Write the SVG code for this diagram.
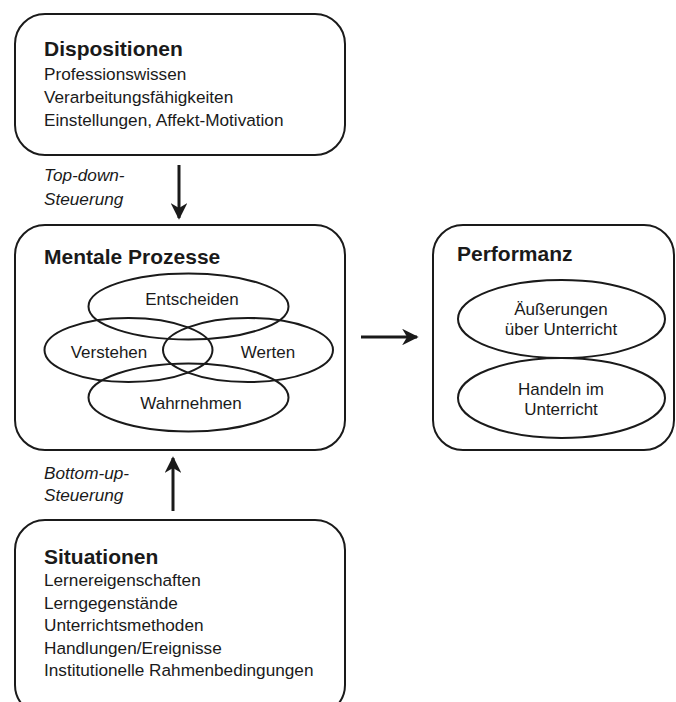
<svg xmlns="http://www.w3.org/2000/svg" width="676" height="702" viewBox="0 0 676 702">
<style>
.box{fill:#fff;stroke:#1a1a1a;stroke-width:2}
.ell{fill:none;stroke:#1a1a1a;stroke-width:2}
.t{font-family:"Liberation Sans",Arial,sans-serif;font-size:17.2px;fill:#1a1a1a}
.h{font-family:"Liberation Sans",Arial,sans-serif;font-size:21px;font-weight:bold;fill:#1a1a1a}
.e{font-family:"Liberation Sans",Arial,sans-serif;font-size:17px;fill:#1a1a1a;text-anchor:middle}
.i{font-family:"Liberation Sans",Arial,sans-serif;font-size:17.2px;font-style:italic;fill:#1a1a1a}
.c{stroke:#1a1a1a;stroke-width:3;fill:none}
</style>
<defs>
<marker id="ah" viewBox="0 0 10 10" refX="9" refY="5" markerWidth="5.5" markerHeight="5.5" orient="auto" markerUnits="strokeWidth">
<path d="M0,0 L10,5 L0,10 L3,5 Z" fill="#1a1a1a"/>
</marker>
</defs>
<g id="dispositionen">
<rect class="box" x="15" y="14" width="330" height="141" rx="30"/>
<text class="h" x="44" y="56">Dispositionen</text>
<text class="t" x="44" y="80">Professionswissen</text>
<text class="t" x="44" y="103">Verarbeitungsfähigkeiten</text>
<text class="t" x="44" y="126">Einstellungen, Affekt-Motivation</text>
</g>
<g id="mentale">
<rect class="box" x="15" y="225" width="330" height="225" rx="30"/>
<text class="h" x="44" y="264">Mentale Prozesse</text>
<ellipse class="ell" cx="188.5" cy="306.5" rx="100" ry="33"/>
<ellipse class="ell" cx="128.5" cy="350" rx="84" ry="32"/>
<ellipse class="ell" cx="248" cy="350" rx="85" ry="32"/>
<ellipse class="ell" cx="188.5" cy="397.5" rx="100" ry="34"/>
<text class="e" x="192" y="305">Entscheiden</text>
<text class="e" x="109" y="358">Verstehen</text>
<text class="e" x="268" y="358">Werten</text>
<text class="e" x="191" y="409">Wahrnehmen</text>
</g>
<g id="performanz">
<rect class="box" x="433" y="225" width="241" height="225" rx="30"/>
<text class="h" x="457" y="261">Performanz</text>
<ellipse class="ell" cx="561.5" cy="319" rx="103.5" ry="39"/>
<ellipse class="ell" cx="561.5" cy="398" rx="103.5" ry="40"/>
<text class="e" x="561" y="315">Äußerungen</text>
<text class="e" x="561" y="335">über Unterricht</text>
<text class="e" x="561" y="395">Handeln im</text>
<text class="e" x="561" y="415">Unterricht</text>
</g>
<g id="situationen">
<rect class="box" x="15" y="520" width="330" height="195" rx="30"/>
<text class="h" x="44" y="564">Situationen</text>
<text class="t" x="44" y="586">Lernereigenschaften</text>
<text class="t" x="44" y="609">Lerngegenstände</text>
<text class="t" x="44" y="631">Unterrichtsmethoden</text>
<text class="t" x="44" y="654">Handlungen/Ereignisse</text>
<text class="t" x="44" y="676">Institutionelle Rahmenbedingungen</text>
</g>
<g id="connectors">
<line class="c" x1="179" y1="165" x2="179" y2="218" marker-end="url(#ah)"/>
<line class="c" x1="173" y1="511" x2="173" y2="458" marker-end="url(#ah)"/>
<line class="c" x1="361" y1="337" x2="417" y2="337" marker-end="url(#ah)"/>
<text class="i" x="44" y="181">Top-down-</text>
<text class="i" x="44" y="205">Steuerung</text>
<text class="i" x="44" y="479">Bottom-up-</text>
<text class="i" x="44" y="501">Steuerung</text>
</g>
</svg>
